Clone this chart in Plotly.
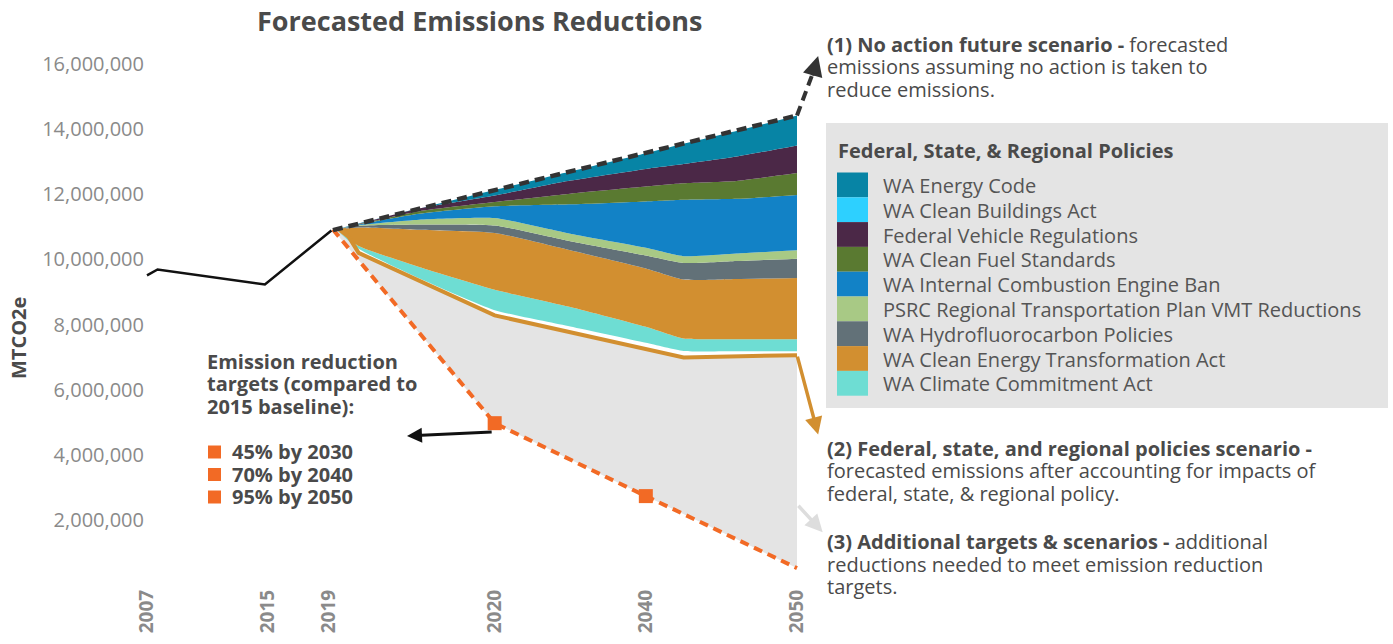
import plotly.graph_objects as go

M = 1e6

# ---------------- data (values in million MTCO2e) ----------------
hist_years = [2007, 2007.7, 2014.8, 2019.2]
hist_vals = [9.51, 9.69, 9.23, 10.89]

no_action_years = [2019.3, 2050]
no_action_vals = [10.90, 14.42]

target_years = [2019.3, 2030, 2040, 2050]
target_vals = [10.92, 4.97, 2.73, 0.52]
target_marker_years = [2030, 2040]
target_marker_vals = [4.97, 2.73]

policy_years = [2020, 2021, 2030, 2042.5, 2050]
policy_vals = [10.95, 10.20, 8.28, 6.99, 7.06]

fc_years = [2019.5, 2021, 2025, 2030, 2035, 2040, 2042.5, 2046, 2050]
stack_base = [10.92, 10.33, 9.42, 8.44, 7.94, 7.44, 7.19, 7.18, 7.18]
cca = [0, 0.08, 0.35, 0.63, 0.60, 0.49, 0.38, 0.37, 0.37]
ceta = [0, 0.57, 1.14, 1.74, 1.74, 1.79, 1.81, 1.85, 1.88]
hfc = [0, 0.05, 0.16, 0.23, 0.28, 0.40, 0.51, 0.55, 0.59]
psrc = [0, 0.02, 0.15, 0.23, 0.23, 0.24, 0.21, 0.23, 0.26]
ice = [0, 0.02, 0.18, 0.36, 0.90, 1.42, 1.73, 1.68, 1.70]
clean_fuel = [0, 0.01, 0.08, 0.13, 0.33, 0.46, 0.51, 0.55, 0.67]
fed_vehicle = [0, 0.01, 0.08, 0.20, 0.40, 0.54, 0.59, 0.75, 0.85]
clean_bldg = [0, 0, 0, 0, 0, 0, 0, 0, 0]
energy_code = [0, 0.01, 0.00, 0.17, 0.28, 0.48, 0.62, 0.78, 0.92]

policy_names = ["WA Energy Code", "WA Clean Buildings Act", "Federal Vehicle Regulations",
                "WA Clean Fuel Standards", "WA Internal Combustion Engine Ban",
                "PSRC Regional Transportation Plan VMT Reductions", "WA Hydrofluorocarbon Policies",
                "WA Clean Energy Transformation Act", "WA Climate Commitment Act"]
policy_colors = ["#0784A5", "#2DD0FF", "#4B2847", "#5A7A31", "#1282C6",
                 "#A8C985", "#627178", "#D28F30", "#6EDDD3"]
policy_series = [energy_code, clean_bldg, fed_vehicle, clean_fuel, ice, psrc, hfc, ceta, cca]

x_tickvals = [2007, 2015, 2019, 2030, 2040, 2050]
x_ticktext = ["2007", "2015", "2019", "2020", "2040", "2050"]
y_tickvals = [2, 4, 6, 8, 10, 12, 14, 16]

target_labels = ["45% by 2030", "70% by 2040", "95% by 2050"]
note1 = ["<b>(1) No action future scenario -</b> forecasted",
         "emissions assuming no action is taken to",
         "reduce emissions."]
note2 = ["<b>(2) Federal, state, and regional policies scenario -</b>",
         "forecasted emissions after accounting for impacts of",
         "federal, state, & regional policy."]
note3 = ["<b>(3) Additional targets & scenarios -</b> additional",
         "reductions needed to meet emission reduction",
         "targets."]
targets_head = ["Emission reduction", "targets (compared to", "2015 baseline):"]


def m(v):
    return [a * M for a in v]


# ---------------- layout geometry ----------------
W, H = 1393, 644
L, R, T, B = 145, 822, 20, 585
x_range = [2007 + (L - 147) / 15.116, 2007 + (R - 147) / 15.116]
y_range = [0, (B - T) / 32.56 * M]


def px(x):
    return (x - L) / (R - L)


def py(y):
    return (B - y) / (B - T)


FONT = "Open Sans"
TXT = "#4a4a4a"
fig = go.Figure()

# gray "additional reductions" area between target line and policy line
fig.add_trace(go.Scatter(x=target_years, y=m(target_vals), mode="lines",
                         line=dict(width=0), showlegend=False, hoverinfo="skip"))
fig.add_trace(go.Scatter(x=policy_years, y=m(policy_vals), mode="lines",
                         line=dict(width=0), fill="tonexty", fillcolor="#E4E4E4",
                         showlegend=False, hoverinfo="skip"))

# stacked policy wedges
fig.add_trace(go.Scatter(x=fc_years, y=m(stack_base), mode="lines", stackgroup="s",
                         line=dict(width=0, shape="spline", smoothing=0.5), fillcolor="rgba(0,0,0,0)",
                         showlegend=False, hoverinfo="skip"))
for name, col, vals in reversed(list(zip(policy_names, policy_colors, policy_series))):
    fig.add_trace(go.Scatter(x=fc_years, y=m(vals), mode="lines", stackgroup="s",
                             line=dict(width=0, color=col, shape="spline", smoothing=0.5),
                             fillcolor=col, name=name, showlegend=False))

# policy scenario line
fig.add_trace(go.Scatter(x=policy_years, y=m(policy_vals), mode="lines",
                         line=dict(color="#D28F30", width=4), showlegend=False))

# target line
fig.add_trace(go.Scatter(x=target_years, y=m(target_vals), mode="lines",
                         line=dict(color="#F26A25", width=4, dash="9px,6px"),
                         showlegend=False))
fig.add_trace(go.Scatter(x=target_marker_years, y=m(target_marker_vals), mode="markers",
                         marker=dict(symbol="square", size=14, color="#F26A25"),
                         showlegend=False))

# historic line
fig.add_trace(go.Scatter(x=hist_years, y=m(hist_vals), mode="lines",
                         line=dict(color="#111111", width=2.5), showlegend=False))

# no action dashed line
fig.add_trace(go.Scatter(x=no_action_years, y=m(no_action_vals), mode="lines",
                         line=dict(color="#333333", width=4.5, dash="10px,6px"),
                         showlegend=False))

shapes = []
annotations = []

# dashed extension to arrow (1)
shapes.append(dict(type="line", xref="x", yref="y", x0=no_action_years[-1], y0=no_action_vals[-1] * M,
                   x1=2051.0, y1=15.66 * M, line=dict(color="#333333", width=4, dash="10px,6px")))
annotations.append(dict(x=2051.4, y=16.25 * M, ax=2051.0, ay=15.6 * M, xref="x", yref="y",
                        axref="x", ayref="y", showarrow=True, arrowhead=2, arrowsize=1,
                        arrowwidth=4, arrowcolor="#333333", text=""))
# arrow (2)
annotations.append(dict(x=2051.4, y=4.62 * M, ax=policy_years[-1], ay=policy_vals[-1] * M,
                        xref="x", yref="y", axref="x", ayref="y", showarrow=True,
                        arrowhead=2, arrowsize=1, arrowwidth=3.5, arrowcolor="#D28F30", text=""))
# arrow (3)
annotations.append(dict(x=2051.7, y=1.62 * M, ax=2050.0, ay=2.48 * M,
                        xref="x", yref="y", axref="x", ayref="y", showarrow=True,
                        arrowhead=2, arrowsize=1, arrowwidth=3.5, arrowcolor="#DDDDDD", text=""))
# black arrow to targets text
annotations.append(dict(x=2024.2, y=4.58 * M, ax=2029.9, ay=4.70 * M,
                        xref="x", yref="y", axref="x", ayref="y", showarrow=True,
                        arrowhead=2, arrowsize=1, arrowwidth=3, arrowcolor="#111111", text=""))

# title
annotations.append(dict(x=px(479), y=py(21), xref="paper", yref="paper", showarrow=False,
                        text="<b>Forecasted Emissions Reductions</b>", xanchor="center", yanchor="middle",
                        font=dict(family=FONT, size=27, color=TXT)))
# y axis title
annotations.append(dict(x=px(18), y=py(338), xref="paper", yref="paper", showarrow=False,
                        text="<b>MTCO2e</b>", textangle=-90, xanchor="center", yanchor="middle",
                        font=dict(family=FONT, size=20, color=TXT)))


def block(x, y_mid, lines, spacing, size=20, color=TXT, bold=False):
    """Multi-line text: glyph size `size`, line pitch `spacing` px."""
    base = spacing / 1.3
    parts = []
    for t in lines:
        if bold:
            t = "<b>" + t + "</b>"
        parts.append('<span style="font-size:%spx">%s</span>' % (size, t))
    annotations.append(dict(x=px(x), y=py(y_mid), xref="paper", yref="paper", showarrow=False,
                            text="<br>".join(parts), xanchor="left", yanchor="middle", align="left",
                            font=dict(family=FONT, size=base, color=color)))


block(825, 67.3, note1, 22.3)
block(825, 471.3, note2, 22.3)
block(825, 563.5, note3, 22.5)
block(205, 384.3, targets_head, 22.3, bold=True)
block(230, 474.5, target_labels, 22.5, bold=True)
for i in range(len(target_labels)):
    yc = 452 + i * 22.5
    shapes.append(dict(type="rect", xref="paper", yref="paper", x0=px(208), x1=px(221),
                       y0=py(yc + 6.5), y1=py(yc - 6.5), fillcolor="#F26A25", line=dict(width=0)))

# legend box
shapes.append(dict(type="rect", xref="paper", yref="paper", x0=px(826), x1=px(1388),
                   y0=py(408), y1=py(123), fillcolor="#E4E4E4", line=dict(width=0), layer="below"))
annotations.append(dict(x=px(836), y=py(150), xref="paper", yref="paper", showarrow=False,
                        text="<b>Federal, State, & Regional Policies</b>", xanchor="left",
                        yanchor="middle", font=dict(family=FONT, size=20, color=TXT)))
row_h = 24.8
for i, col in enumerate(policy_colors):
    y0 = 172.5 + i * row_h
    shapes.append(dict(type="rect", xref="paper", yref="paper", x0=px(837), x1=px(868),
                       y0=py(y0 + row_h), y1=py(y0), fillcolor=col, line=dict(width=0)))
block(881, 172.5 + 4.5 * row_h, policy_names, row_h, size=20, color="#555555")

fig.update_layout(
    width=W, height=H,
    margin=dict(l=L, r=W - R, t=T, b=H - B, pad=0),
    paper_bgcolor="white", plot_bgcolor="white",
    showlegend=False,
    font=dict(family=FONT, color=TXT),
    shapes=shapes, annotations=annotations,
    xaxis=dict(range=x_range, tickvals=x_tickvals, ticktext=x_ticktext, tickangle=-90,
               showgrid=False, zeroline=False, showline=False, ticks="",
               tickfont=dict(family=FONT, size=19, color="#8a8a8a", weight="bold"),
               automargin=False),
    yaxis=dict(range=y_range, tickvals=[v * M for v in y_tickvals], tickformat=",d",
               showgrid=False, zeroline=False, showline=False, ticks="",
               tickfont=dict(family=FONT, size=20, color="#8a8a8a"), automargin=False),
)

fig.write_html("out.html", config={"displayModeBar": False},
               post_script="document.body.style.margin='0';document.body.style.overflow='hidden';")
